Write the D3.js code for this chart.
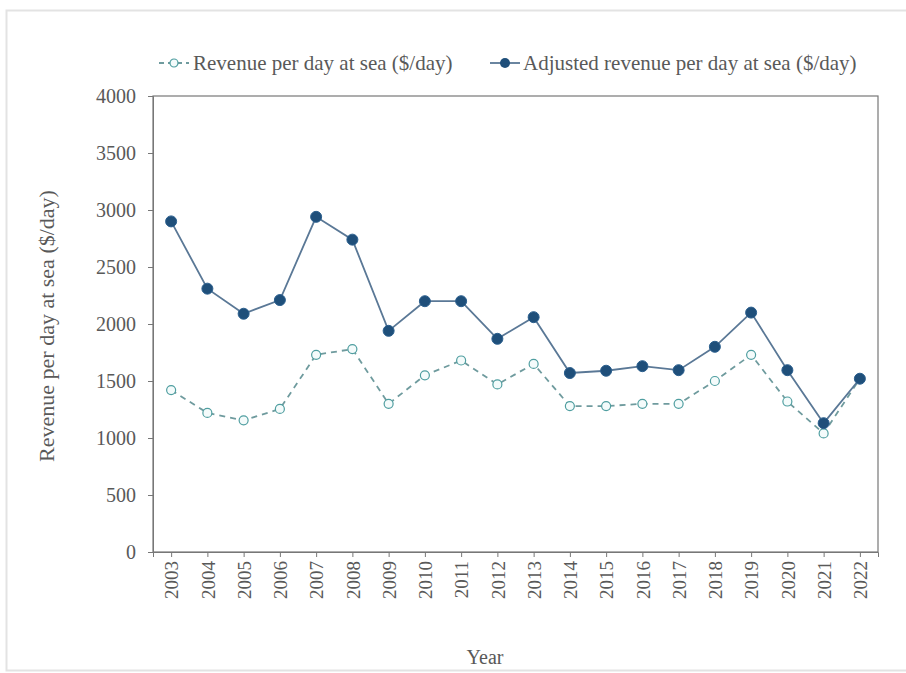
<!DOCTYPE html>
<html>
<head>
<meta charset="utf-8">
<script src="https://cdn.jsdelivr.net/npm/d3@7"></script>
<style>
  body { margin: 0; background: #fff; }
  svg text { font-family: "Liberation Serif", "DejaVu Serif", serif; fill: #595959; }
</style>
</head>
<body>
<svg id="chart"></svg>
<script>
// Data
const years = ['2003', '2004', '2005', '2006', '2007', '2008', '2009', '2010', '2011', '2012',
  '2013', '2014', '2015', '2016', '2017', '2018', '2019', '2020', '2021', '2022'];
const revenue = [1420, 1220, 1155, 1255, 1730, 1780, 1300, 1550, 1680, 1470,
  1650, 1280, 1280, 1300, 1300, 1500, 1730, 1320, 1040, 1520];
const adjustedRevenue = [2900, 2310, 2090, 2210, 2940, 2740, 1940, 2200, 2200, 1870,
  2060, 1570, 1590, 1630, 1595, 1800, 2100, 1595, 1130, 1520];
const yTicks = [0, 500, 1000, 1500, 2000, 2500, 3000, 3500, 4000];

const width = 906, height = 673;
const margin = { top: 96, right: 28, bottom: 121, left: 153 };
const innerW = width - margin.left - margin.right;
const innerH = height - margin.top - margin.bottom;

const svg = d3.select('#chart')
  .attr('width', width)
  .attr('height', height);

// Light outer frame
svg.append('rect')
  .attr('x', 6.5).attr('y', 10.5)
  .attr('width', width).attr('height', 660)
  .attr('fill', 'none')
  .attr('stroke', '#e3e3e3')
  .attr('stroke-width', 2);

const g = svg.append('g')
  .attr('transform', `translate(${margin.left},${margin.top})`);

// Scales
const x = d3.scalePoint()
  .domain(years)
  .range([0, innerW])
  .padding(0.5);

const y = d3.scaleLinear()
  .domain([0, 4000])
  .range([innerH, 0]);

// Plot frame
g.append('rect')
  .attr('width', innerW)
  .attr('height', innerH)
  .attr('fill', 'none')
  .attr('stroke', '#777')
  .attr('stroke-width', 1.2);

// Axes
const xAxisG = g.append('g')
  .attr('transform', `translate(0,${innerH})`)
  .call(d3.axisBottom(x).tickSize(5).tickPadding(6));
xAxisG.select('.domain').attr('stroke', '#777');
xAxisG.selectAll('.tick line').attr('stroke', '#777');
xAxisG.selectAll('.tick text')
  .attr('font-size', 19)
  .attr('transform', 'rotate(-90)')
  .attr('text-anchor', 'end')
  .attr('x', -9)
  .attr('y', 0)
  .attr('dy', '0.35em');

const yAxisG = g.append('g')
  .call(d3.axisLeft(y).tickValues(yTicks).tickFormat(d3.format('d')).tickSize(5).tickPadding(12));
yAxisG.select('.domain').attr('stroke', '#777');
yAxisG.selectAll('.tick line').attr('stroke', '#777');
yAxisG.selectAll('.tick text').attr('font-size', 20);

// Axis titles
svg.append('text')
  .attr('transform', `translate(54,${margin.top + innerH / 2 + 2}) rotate(-90)`)
  .attr('text-anchor', 'middle')
  .attr('font-size', 22)
  .text('Revenue per day at sea ($/day)');

svg.append('text')
  .attr('x', 485)
  .attr('y', 664)
  .attr('text-anchor', 'middle')
  .attr('font-size', 20)
  .text('Year');

// Lines
const line = d3.line()
  .x((d, i) => x(years[i]))
  .y(d => y(d));

g.append('path')
  .datum(revenue)
  .attr('d', line)
  .attr('fill', 'none')
  .attr('stroke', '#6f9b9e')
  .attr('stroke-width', 1.8)
  .attr('stroke-dasharray', '6,5');

g.append('path')
  .datum(adjustedRevenue)
  .attr('d', line)
  .attr('fill', 'none')
  .attr('stroke', '#5a7896')
  .attr('stroke-width', 1.8);

// Markers
g.selectAll('.rev-dot')
  .data(revenue)
  .join('circle')
  .attr('class', 'rev-dot')
  .attr('cx', (d, i) => x(years[i]))
  .attr('cy', d => y(d))
  .attr('r', 4.5)
  .attr('fill', '#f4fbfb')
  .attr('stroke', '#4f9ea0')
  .attr('stroke-width', 1.2);

g.selectAll('.adj-dot')
  .data(adjustedRevenue)
  .join('circle')
  .attr('class', 'adj-dot')
  .attr('cx', (d, i) => x(years[i]))
  .attr('cy', d => y(d))
  .attr('r', 5.5)
  .attr('fill', '#1f4f7a')
  .attr('stroke', '#2b5f8e')
  .attr('stroke-width', 1);

// Legend
const legend = svg.append('g').attr('transform', 'translate(159,63)');

const leg1 = legend.append('g');
leg1.append('line')
  .attr('x1', 0).attr('x2', 30)
  .attr('stroke', '#6f9b9e')
  .attr('stroke-width', 1.8)
  .attr('stroke-dasharray', '5,4');
leg1.append('circle')
  .attr('cx', 15).attr('r', 4)
  .attr('fill', '#f4fbfb')
  .attr('stroke', '#4f9ea0')
  .attr('stroke-width', 1.2);
leg1.append('text')
  .attr('x', 34).attr('dy', '0.35em')
  .attr('font-size', 21)
  .text('Revenue per day at sea ($/day)');

const leg2 = legend.append('g').attr('transform', 'translate(331,0)');
leg2.append('line')
  .attr('x1', 0).attr('x2', 30)
  .attr('stroke', '#5a7896')
  .attr('stroke-width', 1.8);
leg2.append('circle')
  .attr('cx', 15).attr('r', 5)
  .attr('fill', '#1f4f7a');
leg2.append('text')
  .attr('x', 33).attr('dy', '0.35em')
  .attr('font-size', 21)
  .text('Adjusted revenue per day at sea ($/day)');
</script>
</body>
</html>
